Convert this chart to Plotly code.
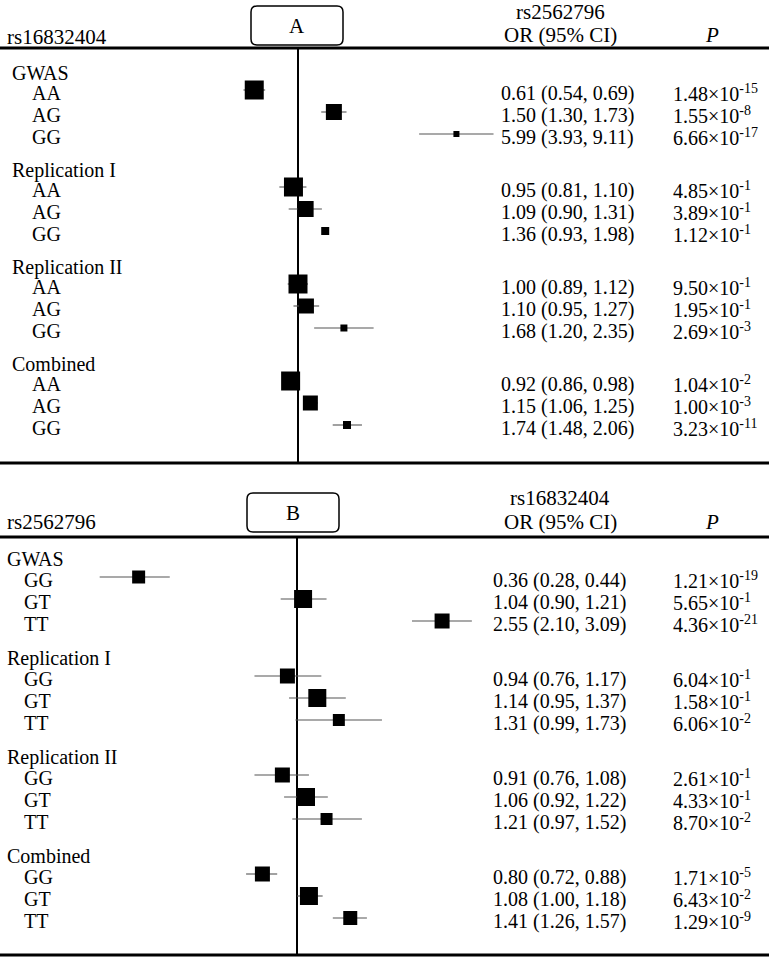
import plotly.graph_objects as go
import math

W, H = 769, 958

groups = ["GWAS", "Replication I", "Replication II", "Combined"]

# Panel A: rs16832404 genotypes, OR for rs2562796
geno_a = ["AA", "AG", "GG"]
or_a = [0.61, 1.50, 5.99, 0.95, 1.09, 1.36, 1.00, 1.10, 1.68, 0.92, 1.15, 1.74]
lo_a = [0.54, 1.30, 3.93, 0.81, 0.90, 0.93, 0.89, 0.95, 1.20, 0.86, 1.06, 1.48]
hi_a = [0.69, 1.73, 9.11, 1.10, 1.31, 1.98, 1.12, 1.27, 2.35, 0.98, 1.25, 2.06]
p_mant_a = [1.48, 1.55, 6.66, 4.85, 3.89, 1.12, 9.50, 1.95, 2.69, 1.04, 1.00, 3.23]
p_exp_a = [-15, -8, -17, -1, -1, -1, -1, -1, -3, -2, -3, -11]
weight_a = [19, 16, 6, 19, 16, 8, 19, 15, 7, 19, 15, 8]
ci_drawn_a = [True, True, True, True, True, False, True, True, True, True, True, True]

# Panel B: rs2562796 genotypes, OR for rs16832404
geno_b = ["GG", "GT", "TT"]
or_b = [0.36, 1.04, 2.55, 0.94, 1.14, 1.31, 0.91, 1.06, 1.21, 0.80, 1.08, 1.41]
lo_b = [0.28, 0.90, 2.10, 0.76, 0.95, 0.99, 0.76, 0.92, 0.97, 0.72, 1.00, 1.26]
hi_b = [0.44, 1.21, 3.09, 1.17, 1.37, 1.73, 1.08, 1.22, 1.52, 0.88, 1.18, 1.57]
p_mant_b = [1.21, 5.65, 4.36, 6.04, 1.58, 6.06, 2.61, 4.33, 8.70, 1.71, 6.43, 1.29]
p_exp_b = [-19, -1, -21, -1, -1, -2, -1, -1, -2, -5, -2, -9]
weight_b = [13, 18, 15, 15, 18, 12, 15, 18, 12, 15, 18, 14]
ci_drawn_b = [True] * 12

FONT = "Liberation Serif"
FS = 20
TXT_DY = 3

panels = [
    dict(name="A", left="rs16832404", col="rs2562796", geno=geno_a, orv=or_a, lo=lo_a, hi=hi_a,
         pm=p_mant_a, pe=p_exp_a, w=weight_a, ci=ci_drawn_a, xa="x", xaname="xaxis",
         ref_px=298, k=88.5, hdr_line=48, bot_line=463, title_y=73, gap=97, off=17, step=22,
         lbl_x=10, sub_x=30, val_x=499, p_x=671, box=(251, 6, 343, 45),
         left_y=37, col_y=12, or_y=35),
    dict(name="B", left="rs2562796", col="rs16832404", geno=geno_b, orv=or_b, lo=lo_b, hi=hi_b,
         pm=p_mant_b, pe=p_exp_b, w=weight_b, ci=ci_drawn_b, xa="x2", xaname="xaxis2",
         ref_px=297, k=155, hdr_line=537, bot_line=955, title_y=559, gap=99, off=18, step=22,
         lbl_x=5, sub_x=22, val_x=491, p_x=671, box=(247, 493, 339, 532),
         left_y=522, col_y=498, or_y=522),
]

fig = go.Figure()
annotations = []
shapes = []


def ann(x, y, text, xanchor="left", size=FS):
    annotations.append(dict(x=x / W, y=y, xref="paper", yref="y", text=text, showarrow=False,
                            xanchor=xanchor, yanchor="middle",
                            font=dict(family=FONT, size=size, color="black")))


for p in panels:
    ys = []
    for g, gname in enumerate(groups):
        gy = p["title_y"] + g * p["gap"]
        ann(p["lbl_x"], gy, gname)
        for i, ge in enumerate(p["geno"]):
            y = gy + p["off"] + i * p["step"]
            ys.append(y)
            ann(p["sub_x"], y + TXT_DY, ge)
    idx = range(len(p["orv"]))
    for j in idx:
        ann(p["val_x"], ys[j] + TXT_DY, f"{p['orv'][j]:.2f} ({p['lo'][j]:.2f}, {p['hi'][j]:.2f})")
        ann(p["p_x"], ys[j] + TXT_DY, f"{p['pm'][j]:.2f}×10<sup>{p['pe'][j]}</sup>")
    plus = [(p["hi"][j] - p["orv"][j]) if p["ci"][j] else 0 for j in idx]
    minus = [(p["orv"][j] - p["lo"][j]) if p["ci"][j] else 0 for j in idx]
    # confidence intervals (drawn first)
    fig.add_trace(go.Scatter(
        x=p["orv"], y=ys, xaxis=p["xa"], yaxis="y", mode="markers",
        marker=dict(symbol="square", size=1, color="rgba(0,0,0,0)", line=dict(width=0)),
        error_x=dict(type="data", array=plus, arrayminus=minus, symmetric=False,
                     color="#555555", thickness=1.1, width=0),
        showlegend=False, hoverinfo="skip"))
    # point estimates on top
    fig.add_trace(go.Scatter(
        x=p["orv"], y=ys, xaxis=p["xa"], yaxis="y", mode="markers",
        marker=dict(symbol="square", size=p["w"], color="#000000", opacity=1,
                    line=dict(width=0)),
        showlegend=False, hoverinfo="skip"))
    # headers
    ann(5, p["left_y"], p["left"], size=21)
    ann(560, p["col_y"], p["col"], xanchor="center", size=21)
    ann(560, p["or_y"], "OR (95% CI)", xanchor="center", size=21)
    ann(712, p["or_y"], "<i>P</i>", xanchor="center", size=21)
    # rounded label box
    x0, y0, x1, y1 = p["box"]
    r = 6

    def X(v):
        return v / W
    path = (f"M {X(x0 + r)},{y0} L {X(x1 - r)},{y0} Q {X(x1)},{y0} {X(x1)},{y0 + r} "
            f"L {X(x1)},{y1 - r} Q {X(x1)},{y1} {X(x1 - r)},{y1} L {X(x0 + r)},{y1} "
            f"Q {X(x0)},{y1} {X(x0)},{y1 - r} L {X(x0)},{y0 + r} Q {X(x0)},{y0} {X(x0 + r)},{y0} Z")
    shapes.append(dict(type="path", path=path, xref="paper", yref="y",
                       line=dict(color="black", width=1.5), fillcolor="white", layer="above"))
    ann((x0 + x1) / 2, (y0 + y1) / 2, p["name"], xanchor="center", size=21)
    # horizontal rules
    for yl in (p["hdr_line"], p["bot_line"]):
        shapes.append(dict(type="line", xref="paper", yref="y", x0=0, x1=1, y0=yl, y1=yl,
                           line=dict(color="black", width=3)))
    # reference line at OR = 1
    shapes.append(dict(type="line", xref=p["xa"], yref="y", x0=1, x1=1,
                       y0=p["hdr_line"], y1=p["bot_line"], line=dict(color="black", width=2),
                       layer="below"))

layout_axes = {}
for p in panels:
    dec = p["k"] * math.log(10)
    rng = [-p["ref_px"] / dec, (W - p["ref_px"]) / dec]
    ax = dict(type="log", range=rng, domain=[0, 1], visible=False, showgrid=False,
              zeroline=False, fixedrange=True)
    if p["xa"] == "x2":
        ax.update(overlaying="x", anchor="y")
    layout_axes[p["xaname"]] = ax

fig.update_layout(
    width=W, height=H, margin=dict(l=0, r=0, t=0, b=0),
    paper_bgcolor="white", plot_bgcolor="white",
    yaxis=dict(range=[H, 0], domain=[0, 1], visible=False, showgrid=False, zeroline=False,
               fixedrange=True),
    annotations=annotations, shapes=shapes, **layout_axes)

fig.write_html("out.html", config={"displayModeBar": False},
               post_script="document.body.style.margin='0';")
